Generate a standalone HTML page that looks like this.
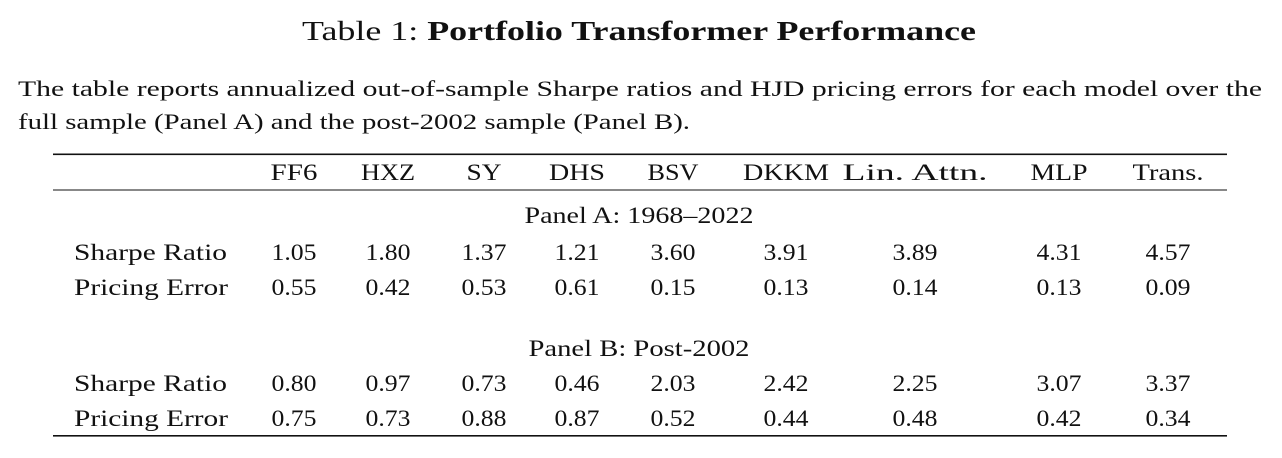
<!DOCTYPE html>
<html><head><meta charset="utf-8"><style>
html,body{margin:0;padding:0;background:#fff;}
svg{display:block;font-family:"Liberation Serif",serif;fill:#111;}
</style></head><body>
<svg id="t" width="1282" height="458" viewBox="0 0 1282 458">
<text x="639" y="40" text-anchor="middle" font-size="27" textLength="674" lengthAdjust="spacingAndGlyphs">Table 1: <tspan font-weight="bold">Portfolio Transformer Performance</tspan></text>
<text x="18" y="96" font-size="22.5" textLength="1244" lengthAdjust="spacingAndGlyphs">The table reports annualized out-of-sample Sharpe ratios and HJD pricing errors for each model over the</text>
<text x="18" y="129" font-size="22.5" textLength="672" lengthAdjust="spacingAndGlyphs">full sample (Panel A) and the post-2002 sample (Panel B).</text>
<rect x="53" y="153.5" width="1174" height="1.6" fill="#111"/>
<rect x="53" y="189.5" width="1174" height="1" fill="#111"/>
<rect x="53" y="435" width="1174" height="1.6" fill="#111"/>
<text x="639" y="223" text-anchor="middle" font-size="23" textLength="229" lengthAdjust="spacingAndGlyphs">Panel A: 1968–2022</text>
<text x="639" y="356" text-anchor="middle" font-size="23" textLength="221" lengthAdjust="spacingAndGlyphs">Panel B: Post-2002</text>
</svg>
<script>
const models = ["FF6","HXZ","SY","DHS","BSV","DKKM","Lin. Attn.","MLP","Trans."];
const sharpeA = ["1.05","1.80","1.37","1.21","3.60","3.91","3.89","4.31","4.57"];
const errorA  = ["0.55","0.42","0.53","0.61","0.15","0.13","0.14","0.13","0.09"];
const sharpeB = ["0.80","0.97","0.73","0.46","2.03","2.42","2.25","3.07","3.37"];
const errorB  = ["0.75","0.73","0.88","0.87","0.52","0.44","0.48","0.42","0.34"];
const colX = [294,388,484,577,673,786,915,1059,1168];
const headW = [47,54,35,56,51,86,145,57,71];
const svg = document.getElementById('t');
const NS = "http://www.w3.org/2000/svg";
function txt(s,x,y,anchor,name,w){
  const e=document.createElementNS(NS,'text');
  e.setAttribute('x',x);e.setAttribute('y',y);
  e.setAttribute('text-anchor',anchor);e.setAttribute('font-size','23');
  if(w){e.setAttribute('textLength',w);e.setAttribute('lengthAdjust','spacingAndGlyphs');}
  
  
  e.textContent=s;svg.appendChild(e);
}
models.forEach((m,i)=>txt(m,colX[i],180,'middle','header-'+i,headW[i]));
const rows=[["Sharpe Ratio",sharpeA,260,'a-sharpe',153],["Pricing Error",errorA,295,'a-error',154],["Sharpe Ratio",sharpeB,391,'b-sharpe',153],["Pricing Error",errorB,426,'b-error',154]];
rows.forEach(r=>{
  txt(r[0],74,r[2],'start','row-label-'+r[3],r[4]);
  r[1].forEach((v,i)=>txt(v,colX[i],r[2],'middle','cell-'+r[3]+'-'+i,45));
});
</script>
</body></html>
